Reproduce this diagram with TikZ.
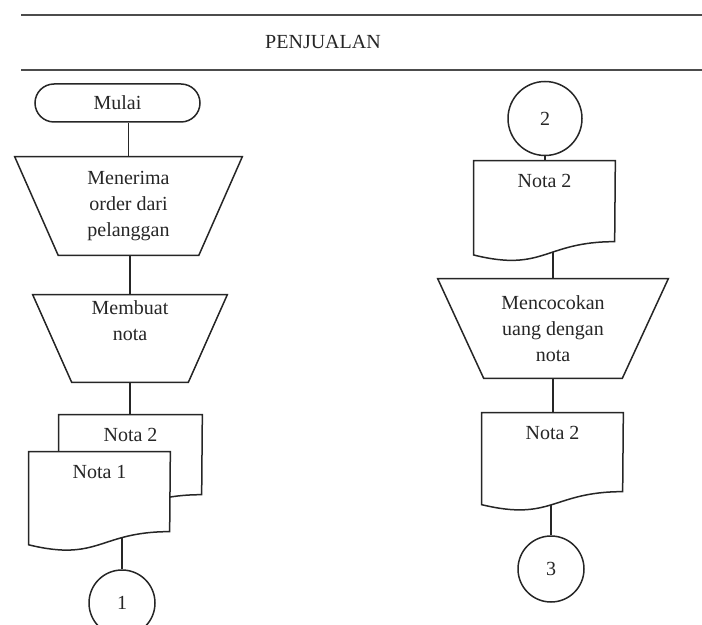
\documentclass[tikz,border=0pt]{standalone}
\usepackage{fontspec}
\setmainfont{Liberation Serif}
\usetikzlibrary{calc,shapes.misc}

\pgfdeclarelayer{lines}
\pgfdeclarelayer{shapes}
\pgfsetlayers{lines,shapes,main}

\tikzset{
  ink/.style={draw=black!85, line width=0.9pt},
  txt/.style={text=black!85, font=\fontsize{12}{15.5}\selectfont, align=center},
  box/.style={txt, draw=none, inner sep=0pt, rectangle},
  terminal/.style={txt, ink, fill=white, rounded rectangle, inner sep=0pt,
    minimum width=99pt, minimum height=22.8pt},
  connector/.style={txt, ink, fill=white, circle, inner sep=0pt},
  shapeline/.style={ink, fill=white, line join=miter},
  doclabel/.style={txt, anchor=center, yshift=-12pt},
  rule/.style={draw=black!70, line width=1.6pt},
}

% manual input trapezium over an invisible box: #1 name, #2 inset of the bottom corners
\newcommand\manualinput[2]{%
  \begin{pgfonlayer}{shapes}
  \draw[shapeline] (#1.north west) -- (#1.north east)
    -- ($(#1.south east)+(-#2,0)$) -- ($(#1.south west)+(#2,0)$) -- cycle;
  \end{pgfonlayer}}

% document symbol with a wavy bottom: #1 name, #2 width, #3 height (drawing units)
\newcommand\docsymbol[3]{%
  \begin{pgfonlayer}{shapes}
  \draw[shapeline] (#1.north west) -- (#1.north east)
    -- ($(#1.north west)+(#2,{0.802*#3})$)
    .. controls ($(#1.north west)+({0.5*#2},{0.802*#3})$)
       and ($(#1.north west)+({0.5*#2},{1.107*#3})$)
    .. ($(#1.north west)+(0,{0.934*#3})$) -- cycle;
  \end{pgfonlayer}}

\begin{document}
\begin{tikzpicture}[x=0.6pt, y=-0.6pt]
\useasboundingbox (0,0) rectangle (702,625);

% header band
\draw[rule] (21,15) coordinate (r1a) -- (702,15) coordinate (r1b);
\draw[rule] (21,70) coordinate (r2a) -- (702,70) coordinate (r2b);
\node[txt] (title) at (323,42) {PENJUALAN};

% left column
\node[terminal] (mulai) at (117.5,103) {Mulai};
\node[box, minimum width=136.2pt, minimum height=58.8pt] (terima) at (128.5,206)
  {Menerima\\order dari\\pelanggan};
\manualinput{terima}{43.5}
\node[box, minimum width=116.4pt, minimum height=52.2pt] (buat) at (130,338.5)
  {Membuat\\nota\\[6pt]};
\manualinput{buat}{39}
\node[box, minimum width=85.8pt, minimum height=59.85pt,
  label={[doclabel]north:Nota 2}] (notaB) at (130.5,464.9) {};
\docsymbol{notaB}{143}{99.75}
\node[box, minimum width=84.6pt, minimum height=59.8pt,
  label={[doclabel]north:Nota 1}] (notaA) at (99.5,501.85) {};
\docsymbol{notaA}{141}{99.7}
\node[connector, minimum size=39.6pt] (c1) at (122,603) {1};

% right column
\node[connector, minimum size=44.4pt] (c2) at (545,118.5) {2};
\node[box, minimum width=84.6pt, minimum height=60.6pt,
  label={[doclabel]north:Nota 2}] (notaR1) at (544.5,211.5) {};
\docsymbol{notaR1}{141}{101}
\node[box, minimum width=138pt, minimum height=59.4pt] (cocok) at (553,328.5)
  {Mencocokan\\uang dengan\\nota};
\manualinput{cocok}{46}
\node[box, minimum width=84.6pt, minimum height=59.1pt,
  label={[doclabel]north:Nota 2}] (notaR2) at (552.5,462.25) {};
\docsymbol{notaR2}{141}{98.5}
\node[connector, minimum size=39.6pt] (c3) at (551,569) {3};

% flow lines, kept underneath the symbols
\begin{pgfonlayer}{lines}
\draw[ink] (mulai.south -| terima.north) -- (terima.north);
\draw[ink] (terima.south -| buat.north) -- (buat.north);
\draw[ink] (buat.south) -- (buat.south |- notaB.north);
\draw[ink] (notaA.center -| c1.north) -- (c1.north);
\draw[ink] (c2.south) -- (c2.south |- notaR1.north);
\draw[ink] (notaR1.center -| cocok.north) -- (cocok.north);
\draw[ink] (cocok.south) -- (cocok.south |- notaR2.north);
\draw[ink] (notaR2.center -| c3.north) -- (c3.north);
\end{pgfonlayer}
\end{tikzpicture}
\end{document}
